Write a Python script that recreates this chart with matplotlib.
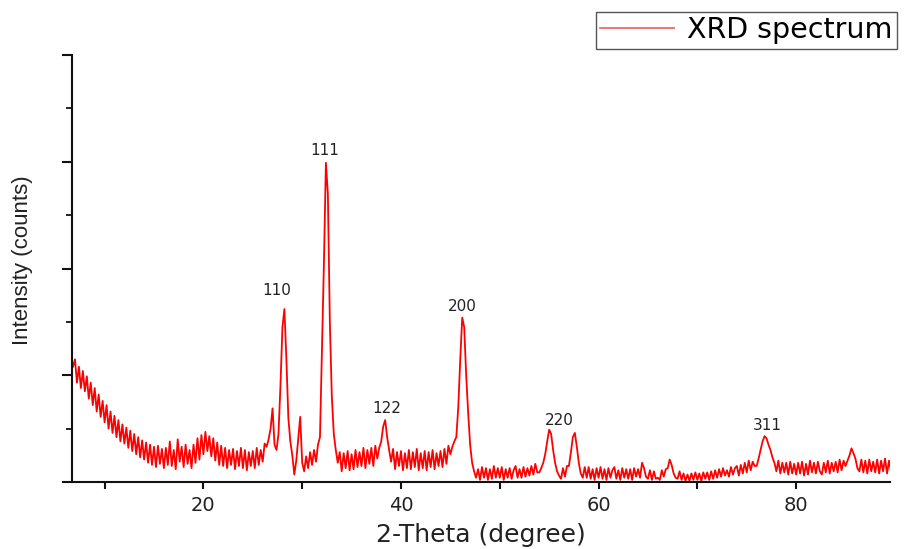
import numpy as np
import matplotlib
matplotlib.use('Agg')
import matplotlib.pyplot as plt
from matplotlib.lines import Line2D
from matplotlib.ticker import MultipleLocator, NullFormatter

# 2-theta grid: start and step of the scan
theta_start = 6.8
theta_step = 0.2

# intensity (counts), five points per degree
intensity = [
    1080,
    1150, 930, 1080, 880, 1040,   # 7
    850, 990, 780, 930, 720,      # 8
    880, 660, 820, 610, 760,      # 9
    560, 720, 500, 660, 460,      # 10
    620, 420, 580, 380, 540,      # 11
    360, 510, 320, 480, 290,      # 12
    450, 260, 420, 230, 390,      # 13
    210, 370, 180, 350, 160,      # 14
    330, 140, 340, 170, 310,      # 15
    130, 320, 160, 380, 150,      # 16
    300, 120, 400, 190, 330,      # 17
    140, 350, 170, 300, 130,      # 18
    350, 180, 410, 210, 440,      # 19
    260, 470, 290, 430, 240,      # 20
    410, 200, 370, 160, 340,      # 21
    150, 320, 130, 300, 160,      # 22
    310, 120, 290, 150, 320,      # 23
    130, 300, 110, 280, 150,      # 24
    290, 130, 320, 160, 300,      # 25
    190, 360, 330, 400, 500,      # 26
    690, 350, 300, 450, 900,      # 27
    1450, 1620, 1150, 600, 380,   # 28
    250, 70, 200, 400, 610,       # 29
    180, 100, 240, 130, 280,      # 30
    160, 300, 190, 350, 420,      # 31
    1250, 2050, 2990, 2700, 1500, # 32
    800, 450, 300, 180, 280,      # 33
    100, 270, 130, 290, 110,      # 34
    260, 120, 300, 140, 280,      # 35
    150, 320, 130, 300, 170,      # 36
    320, 150, 340, 220, 320,      # 37
    380, 520, 580, 420, 300,      # 38
    190, 310, 120, 280, 150,      # 39
    290, 110, 270, 130, 300,      # 40
    120, 280, 140, 310, 110,      # 41
    270, 130, 290, 110, 280,      # 42
    140, 300, 120, 270, 150,      # 43
    290, 140, 310, 170, 340,      # 44
    260, 330, 380, 420, 700,      # 45
    1150, 1540, 1450, 1000, 650,  # 46
    350, 180, 100, 40, 120,       # 47
    20, 140, 40, 130, 20,         # 48
    120, 30, 150, 40, 130,        # 49
    40, 140, 20, 120, 40,         # 50
    130, 30, 110, 150, 40,        # 51
    120, 40, 140, 50, 130,        # 52
    60, 150, 70, 170, 90,         # 53
    90, 130, 180, 260, 380,       # 54
    490, 450, 300, 180, 100,      # 55
    60, 30, 130, 50, 150,         # 56
    150, 280, 420, 460, 330,      # 57
    180, 80, 40, 140, 40,         # 58
    140, 30, 120, 20, 130,        # 59
    40, 140, 30, 120, 20,         # 60
    130, 40, 110, 140, 30,        # 61
    110, 20, 130, 40, 120,        # 62
    30, 120, 20, 130, 50,         # 63
    120, 40, 180, 130, 50,        # 64
    30, 110, 20, 100, 30,         # 65
    40, 20, 110, 50, 120,         # 66
    130, 210, 160, 80, 40,        # 67
    30, 100, 20, 80, 10,          # 68
    70, 10, 80, 20, 90,           # 69
    20, 80, 10, 90, 30,           # 70
    90, 20, 100, 30, 110,         # 71
    40, 120, 50, 130, 60,         # 72
    110, 50, 140, 70, 130,        # 73
    150, 60, 160, 80, 180,        # 74
    90, 200, 110, 190, 150,       # 75
    150, 220, 300, 380, 430,      # 76
    410, 350, 300, 230, 180,      # 77
    100, 200, 80, 180, 90,        # 78
    180, 70, 190, 80, 170,        # 79
    70, 180, 80, 190, 60,         # 80
    170, 70, 200, 90, 180,        # 81
    80, 190, 100, 70, 180,        # 82
    90, 200, 80, 180, 100,        # 83
    190, 90, 210, 110, 200,       # 84
    150, 200, 250, 315, 270,      # 85
    220, 130, 100, 210, 90,       # 86
    200, 80, 210, 100, 190,       # 87
    90, 210, 80, 200, 100,        # 88
    220, 80, 200, 100, 190,       # 89
]

# Miller indices and where their labels sit (2-theta, counts)
hkl_labels = ['110', '111', '122', '200', '220', '311']
hkl_x = [27.4, 32.3, 38.6, 46.2, 56.0, 77.1]
hkl_y = [1790, 3110, 690, 1640, 580, 530]

two_theta = np.round(theta_start + theta_step * np.arange(len(intensity)), 2)

fig = plt.figure(figsize=(9.07, 5.49), dpi=100, facecolor='white')
ax = fig.add_axes([72 / 907, 67 / 549, 818 / 907, 427 / 549])

ax.plot(two_theta, intensity, color='#ff0000', linewidth=1.3)

for lab, lx, ly in zip(hkl_labels, hkl_x, hkl_y):
    ax.text(lx, ly, lab, ha='center', va='center', fontsize=11,
            family='DejaVu Sans', color='#222222')

ax.set_xlim(6.7, 89.5)
ax.set_ylim(0, 4000)

ax.xaxis.set_major_locator(MultipleLocator(20))
ax.xaxis.set_minor_locator(MultipleLocator(10))
ax.yaxis.set_major_locator(MultipleLocator(1000))
ax.yaxis.set_minor_locator(MultipleLocator(500))
ax.yaxis.set_major_formatter(NullFormatter())

ax.spines['top'].set_visible(False)
ax.spines['right'].set_visible(False)
for s in ('left', 'bottom'):
    ax.spines[s].set_linewidth(1.5)
    ax.spines[s].set_color('#111111')

ax.tick_params(axis='x', which='both', direction='out', length=5, width=1.5,
               colors='#111111', pad=5, labelsize=14, labelcolor='#222222')
ax.tick_params(axis='y', which='major', direction='out', length=7, width=1.5,
               colors='#111111')
ax.tick_params(axis='y', which='minor', direction='out', length=4, width=1.3,
               colors='#111111')
for t in ax.get_xticklabels():
    t.set_family('DejaVu Sans')

ax.set_xlabel('2-Theta (degree)', fontsize=18, family='DejaVu Sans',
              color='#222222', labelpad=6)
ax.set_ylabel('Intensity (counts)', fontsize=16, family='Liberation Sans',
              color='#222222')
ax.yaxis.set_label_coords(-0.048, 0.52)

handle = Line2D([], [], color='#ef6a6a', linewidth=1.3)
fig.legend(handles=[handle], labels=['XRD spectrum'], loc='upper left',
           bbox_to_anchor=(596 / 907, 1 - 12 / 549), fancybox=False,
           edgecolor='#555555', framealpha=1, borderaxespad=0,
           borderpad=0.15, handlelength=2.6, handletextpad=0.45,
           prop={'family': 'DejaVu Sans', 'size': 20.5})

fig.savefig('out.png', dpi=100)
